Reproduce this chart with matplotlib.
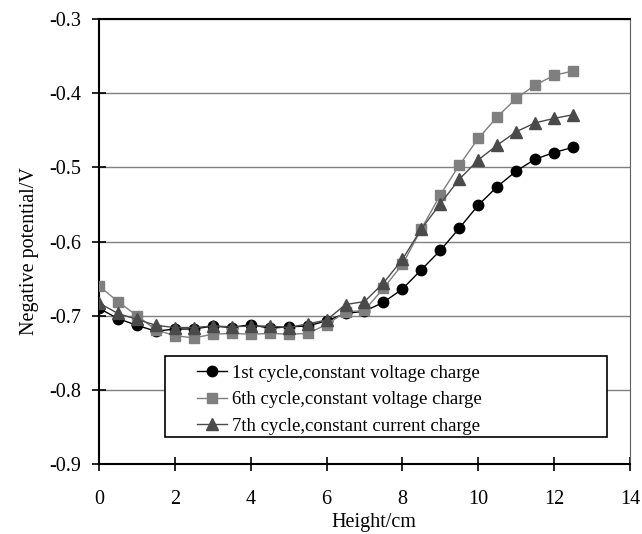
import matplotlib
matplotlib.use("Agg")
import matplotlib.pyplot as plt
from matplotlib.patches import Rectangle

plt.rcParams['font.family'] = ['Liberation Serif', 'DejaVu Serif']

# heights along the electrode (cm)
height = [0, 0.5, 1, 1.5, 2, 2.5, 3, 3.5, 4, 4.5, 5, 5.5, 6,
          6.5, 7, 7.5, 8, 8.5, 9, 9.5, 10, 10.5, 11, 11.5, 12, 12.5]

cycle1_cv = [-0.690, -0.704, -0.713, -0.721, -0.718, -0.718, -0.714, -0.716,
             -0.712, -0.717, -0.715, -0.714, -0.707,
             -0.697, -0.694, -0.682, -0.664, -0.638, -0.612, -0.582, -0.551,
             -0.526, -0.505, -0.489, -0.480, -0.473]

cycle6_cv = [-0.660, -0.681, -0.700, -0.719, -0.727, -0.730, -0.725, -0.724,
             -0.725, -0.724, -0.725, -0.724, -0.712,
             -0.695, -0.693, -0.663, -0.631, -0.583, -0.537, -0.497, -0.461,
             -0.432, -0.407, -0.389, -0.376, -0.370]

cycle7_cc = [-0.683, -0.697, -0.705, -0.713, -0.716, -0.716, -0.714, -0.715,
             -0.714, -0.714, -0.716, -0.711, -0.706,
             -0.685, -0.681, -0.656, -0.624, -0.583, -0.549, -0.516, -0.490,
             -0.470, -0.452, -0.440, -0.434, -0.429]

labels = ['1st cycle,constant voltage charge',
          '6th cycle,constant voltage charge',
          '7th cycle,constant current charge']

fig = plt.figure(figsize=(6.42, 5.34), dpi=100)
ax = fig.add_axes([0.1542, 0.1311, 0.8271, 0.8333])

ax.plot(height, cycle1_cv, color='black', marker='o', markersize=7.5,
        linewidth=1, label=labels[0], zorder=3)
ax.plot(height, cycle6_cv, color='#7f7f7f', marker='s', markersize=7,
        linewidth=1, label=labels[1], zorder=4)
ax.plot(height, cycle7_cc, color='#4a4a4a', marker='^', markersize=8,
        linewidth=1, label=labels[2], zorder=5)

ax.set_xlim(0, 14)
ax.set_ylim(-0.9, -0.3)
ax.set_xticks(range(0, 15, 2))
ax.set_yticks([-0.9, -0.8, -0.7, -0.6, -0.5, -0.4, -0.3])
ax.set_yticklabels(['-0.9', '-0.8', '-0.7', '-0.6', '-0.5', '-0.4', '-0.3'])
ax.yaxis.grid(True, color='#808080', linewidth=1)
ax.set_axisbelow(True)

ax.tick_params(direction='inout', length=10, width=1.2, labelsize=14.5,
               colors='black')
ax.tick_params(axis='x', pad=14)
ax.tick_params(axis='y', pad=8)
for side in ['left', 'bottom', 'top']:
    ax.spines[side].set_linewidth(1.5)
ax.spines['right'].set_color('#606060')

ax.set_xlabel('Height/cm', fontsize=14.5)
ax.set_ylabel('Negative potential/V', fontsize=14.5)
ax.xaxis.set_label_coords(0.517, -0.111)
ax.yaxis.set_label_coords(-0.113, 0.479)

# legend box drawn separately so the entries can sit inset from its left edge
ax.add_patch(Rectangle((0.1243, 0.0607), 0.832, 0.182, transform=ax.transAxes,
                       facecolor='white', edgecolor='black', linewidth=1.2,
                       zorder=6))
leg = ax.legend(loc='upper left', bbox_to_anchor=(0.1846, 0.223),
                fontsize=13.5, frameon=False, handlelength=1.6,
                handletextpad=0.25, borderaxespad=0, borderpad=0,
                labelspacing=0.5)
leg.set_zorder(7)

fig.savefig('out.png', dpi=100)
